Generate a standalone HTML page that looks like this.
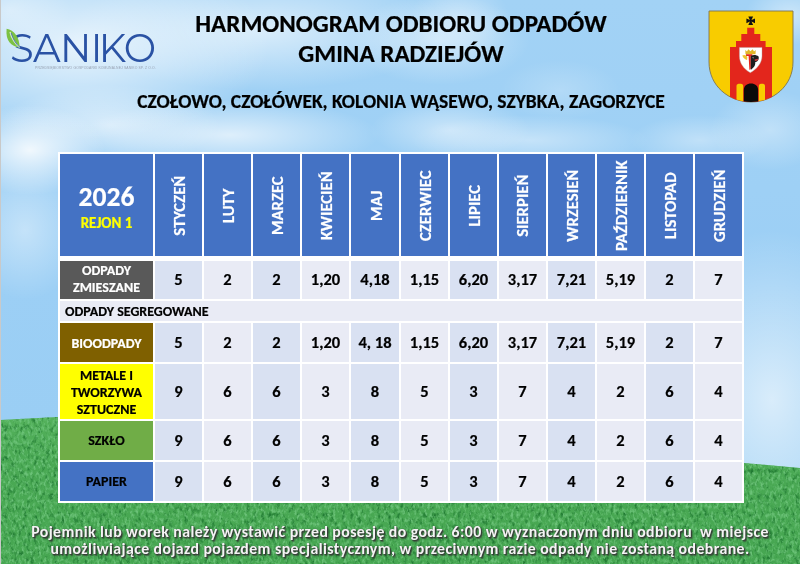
<!DOCTYPE html>
<html><head><meta charset="utf-8"><style>
*{margin:0;padding:0;box-sizing:border-box}
html,body{width:800px;height:564px;overflow:hidden}
body{position:relative;font-family:"Carlito", "Liberation Sans", sans-serif;background:#a9d6f5}
#sky{position:absolute;left:0;top:0;width:800px;height:564px;
background:
radial-gradient(ellipse 190px 95px at 80px 45px, rgba(255,255,255,0.75), rgba(255,255,255,0)),
radial-gradient(ellipse 190px 60px at 260px 30px, rgba(255,255,255,0.6), rgba(255,255,255,0)),
radial-gradient(ellipse 90px 45px at 440px 40px, rgba(255,255,255,0.45), rgba(255,255,255,0)),
radial-gradient(ellipse 75px 45px at 30px 150px, rgba(255,255,255,0.85), rgba(255,255,255,0)),
radial-gradient(ellipse 110px 40px at 110px 125px, rgba(255,255,255,0.55), rgba(255,255,255,0)),
radial-gradient(ellipse 150px 35px at 230px 135px, rgba(255,255,255,0.65), rgba(255,255,255,0)),
radial-gradient(ellipse 80px 30px at 450px 130px, rgba(255,255,255,0.45), rgba(255,255,255,0)),
radial-gradient(ellipse 45px 30px at 790px 15px, rgba(255,255,255,0.45), rgba(255,255,255,0)),
radial-gradient(ellipse 60px 40px at 770px 130px, rgba(255,255,255,0.35), rgba(255,255,255,0)),
radial-gradient(ellipse 60px 70px at 25px 230px, rgba(255,255,255,0.4), rgba(255,255,255,0)),
radial-gradient(ellipse 120px 170px at 772px 400px, rgba(255,255,255,0.62), rgba(255,255,255,0)),
radial-gradient(ellipse 60px 40px at 10px 10px, rgba(255,255,255,0.4), rgba(255,255,255,0)),
radial-gradient(ellipse 120px 25px at 530px 140px, rgba(255,255,255,0.4), rgba(255,255,255,0)),
radial-gradient(ellipse 70px 25px at 700px 140px, rgba(255,255,255,0.35), rgba(255,255,255,0)),
radial-gradient(ellipse 50px 40px at 460px 20px, rgba(255,255,255,0.35), rgba(255,255,255,0)),
radial-gradient(ellipse 60px 30px at 560px 90px, rgba(255,255,255,0.2), rgba(255,255,255,0)),
linear-gradient(180deg,#a2d2f5 0%,#9ccff5 50%,#9acef4 75%,#a4d4f5 100%)}
#grass{position:absolute;left:0;top:0;width:800px;height:564px}
#edge{position:absolute;left:0;top:0;width:1px;height:564px;background:#c9c9c9}
.t{position:absolute;white-space:nowrap;font-weight:bold;color:#000;-webkit-text-stroke:0.2px #000}
#tbl{position:absolute;left:58px;top:152px;width:686px;height:351px;background:#fff}
.c{-webkit-text-stroke:0.2px currentColor;position:absolute;display:flex;align-items:center;justify-content:center;text-align:center;font-weight:bold;white-space:nowrap}
.hd0{flex-direction:column;color:#fff}
.yr{position:absolute;left:0;width:100%;top:27.6px;font-size:27.6px;line-height:30px;color:#fff}
.rj{position:absolute;left:0;width:100%;top:59.8px;font-size:15px;line-height:18px;color:#ff0}
.vt{display:block;transform:translate(0.3px,0.7px) rotate(-90deg);color:#fff;font-size:16.7px;line-height:16px}
.lb{font-size:14px;line-height:17px}
.num{font-size:16.5px;color:#000;padding-bottom:1.2px}
.r1{padding-bottom:2.8px}
.seg{justify-content:flex-start;padding-left:5px;font-size:14px;color:#000}
#foot{position:absolute;left:0;top:523px;width:800px;text-align:center;font-weight:bold;font-size:15.8px;letter-spacing:0.43px;line-height:17.4px;color:#f4f4f4;text-shadow:1px 1px 1.2px #353535, 1.5px 1.5px 1.5px rgba(40,40,40,.6), 0 0 1px rgba(60,60,60,.6);white-space:pre}
</style></head><body>
<div id="sky"></div>
<svg id="grass" width="800" height="564" viewBox="0 0 800 564">
<defs>
<filter id="gl" x="0" y="0" width="100%" height="100%" color-interpolation-filters="sRGB"><feTurbulence type="fractalNoise" baseFrequency="0.36 0.22" numOctaves="3" seed="7"/><feColorMatrix type="matrix" values="0 0 0 0 0.42  0 0 0 0 0.76  0 0 0 0 0.47  3.0 0 0 0 -1.35"/><feGaussianBlur stdDeviation="0.4"/><feComposite in2="SourceGraphic" operator="in"/></filter>
<filter id="gd" x="0" y="0" width="100%" height="100%" color-interpolation-filters="sRGB"><feTurbulence type="fractalNoise" baseFrequency="0.26 0.16" numOctaves="3" seed="21"/><feColorMatrix type="matrix" values="0 0 0 0 0.13  0 0 0 0 0.48  0 0 0 0 0.2  -3.0 0 0 0 1.5"/><feGaussianBlur stdDeviation="0.5"/><feComposite in2="SourceGraphic" operator="in"/></filter>
</defs>
<linearGradient id="gg" gradientUnits="userSpaceOnUse" x1="0" y1="410" x2="0" y2="564"><stop offset="0" stop-color="#55b25c"/><stop offset="0.35" stop-color="#4aa954"/><stop offset="1" stop-color="#46a651"/></linearGradient>
<path id="hill" d="M0,420 L58,417 C258,406.6 544,446 744,463 L800,468 V564 H0 Z" fill="url(#gg)"/>
<path d="M0,420 L58,417 C258,406.6 544,446 744,463 L800,468 V564 H0 Z" fill="#fff" filter="url(#gd)"/>
<path d="M0,420 L58,417 C258,406.6 544,446 744,463 L800,468 V564 H0 Z" fill="#fff" filter="url(#gl)"/>
</svg>
<div id="edge"></div>


<div id="logo" style="position:absolute;left:10px;top:26.5px;letter-spacing:-0.6px;font:450 38.5px Montserrat, 'Liberation Sans', sans-serif;color:#2a52a4;line-height:44px;white-space:nowrap"><span style="display:inline-block;clip-path:polygon(6px 0,100% 0,100% 100%,0 100%,0 20.5px,9px 20.5px,9px 11.5px,6px 11.5px)">S</span>ANI<span style="margin-left:-3px">K</span><span style="margin-left:-1.8px">O</span></div>
<div style="position:absolute;left:35px;top:66.2px;font:400 3.4px 'Liberation Sans', sans-serif;color:#98a2b2;white-space:nowrap;letter-spacing:0.12px">PRZEDSIĘBIORSTWO GOSPODARKI KOMUNALNEJ SANIKO SP. Z O.O.</div>
<svg style="position:absolute;left:0;top:0" width="800" height="564" viewBox="0 0 800 564">
<path d="M6.6,28.8 C14,30 19.5,37 19.6,47.6 C11,46.5 5.4,41 6.6,28.8 Z" fill="#7cc143"/>
<path d="M10,32 C11.5,38 14.5,43 19.6,47.4" stroke="#d8ecd0" stroke-width="1.3" fill="none"/>
<path d="M11.2,33 C13,39 15.5,43.5 19.8,47.2" stroke="#4a6fb0" stroke-width="0.9" fill="none"/>
<g id="crest">
<path d="M709,11 H793 V62 C793,86 773,102 751,102 C729,102 709,86 709,62 Z" fill="#f8cc00" stroke="#7f7550" stroke-width="0.9"/>
<clipPath id="sh"><path d="M709,11 H793 V62 C793,86 773,102 751,102 C729,102 709,86 709,62 Z"/></clipPath>
<g clip-path="url(#sh)">
<path d="M730,47 H736 V41 H741.3 V34 H747.2 V27.7 H754.3 V34 H760.3 V41 H765.6 V47 H772 V104 H730 Z" fill="#e3261c"/>
<path d="M736.5,101 V86 C736.5,84 738,83.7 739.8,83.7 C741.6,83.7 743.2,84 743.2,86 V101 Z" fill="#f8cc00"/>
<path d="M758.8,101 V86 C758.8,84 760.4,83.7 762,83.7 C763.6,83.7 765,84 765,86 V101 Z" fill="#f8cc00"/>
<path d="M743.8,102 V90 C743.8,86 747,83.6 751,83.6 C755,83.6 758.1,86 758.1,90 V102 Z" fill="#0a0a0a"/>
</g>
<path d="M739.4,47.4 H762 V56 C762,63 757,69 750.3,72.7 C743.6,69 739.4,63 739.4,56 Z" fill="#fff" stroke="#b0a0a0" stroke-width="0.4"/>
<path d="M745.5,54.3 L745.3,50 L747,51.6 L748.3,49.3 L750.5,51.2 L752.7,49.3 L754,51.6 L755.7,50 L755.5,54.3 Z" fill="#e2b626"/>
<path d="M746,54.2 H752.3 V56 H750.8 V68.8 L749.4,70 L748.6,56 H746 Z" fill="#e3261c"/>
<path d="M742.3,55.5 C744,54.4 746.6,55 747.3,57 L747.1,60 C745.4,59.5 743,58 742.3,55.5 Z" fill="#eec430"/>
<path d="M750.8,56 C753,54.6 756.6,54.8 758.6,56.6 C759.1,58.6 758.4,60.6 757,61.6 L755.2,62.2 C755.6,64.2 754.6,66.2 753.4,67.6 L750.8,70 Z" fill="#1e1e1e"/>
<path d="M754.6,59.4 L758.2,58.8 L757.6,60.6 L754.9,61.1 Z" fill="#d83a3a"/>
<path d="M752.2,57.6 L753.6,57.2 L753.4,58.4 Z" fill="#ddd"/>
<path d="M748.3,16.5 H753.1 L751.5,20 L755,18.4 V23.2 L751.5,21.6 L753.1,25.1 H748.3 L749.9,21.6 L746.4,23.2 V18.4 L749.9,20 Z" fill="#111"/>
</g>
</svg>

<div class="t" style="left:0;width:802px;top:8.6px;text-align:center;font-size:25.1px;line-height:30px">HARMONOGRAM ODBIORU ODPADÓW<br>GMINA RADZIEJÓW</div>
<div class="t" style="left:0;width:802px;top:89.5px;text-align:center;font-size:19.5px;line-height:22px">CZOŁOWO, CZOŁÓWEK, KOLONIA WĄSEWO, SZYBKA, ZAGORZYCE</div>

<div id="tbl"></div>
<div class="c hd0" style="left:60px;top:154px;width:93px;height:102px;background:#4472c4"><div class="yr">2026</div><div class="rj">REJON 1</div></div><div class="c hd" style="left:155px;top:154px;width:47px;height:102px;background:#4472c4"><span class="vt">STYCZEŃ</span></div><div class="c hd" style="left:204px;top:154px;width:47px;height:102px;background:#4472c4"><span class="vt">LUTY</span></div><div class="c hd" style="left:253px;top:154px;width:47px;height:102px;background:#4472c4"><span class="vt">MARZEC</span></div><div class="c hd" style="left:302px;top:154px;width:47px;height:102px;background:#4472c4"><span class="vt">KWIECIEŃ</span></div><div class="c hd" style="left:351px;top:154px;width:48px;height:102px;background:#4472c4"><span class="vt">MAJ</span></div><div class="c hd" style="left:401px;top:154px;width:47px;height:102px;background:#4472c4"><span class="vt">CZERWIEC</span></div><div class="c hd" style="left:450px;top:154px;width:47px;height:102px;background:#4472c4"><span class="vt">LIPIEC</span></div><div class="c hd" style="left:499px;top:154px;width:47px;height:102px;background:#4472c4"><span class="vt">SIERPIEŃ</span></div><div class="c hd" style="left:548px;top:154px;width:47px;height:102px;background:#4472c4"><span class="vt">WRZESIEŃ</span></div><div class="c hd" style="left:597px;top:154px;width:47px;height:102px;background:#4472c4"><span class="vt">PAŹDZIERNIK</span></div><div class="c hd" style="left:646px;top:154px;width:47px;height:102px;background:#4472c4"><span class="vt">LISTOPAD</span></div><div class="c hd" style="left:695px;top:154px;width:47px;height:102px;background:#4472c4"><span class="vt">GRUDZIEŃ</span></div><div class="c lb" style="left:60px;top:261px;width:93px;height:38px;background:#595959"><span style="color:#fff;padding-bottom:1.6px">ODPADY<br>ZMIESZANE</span></div><div class="c num r1" style="left:155px;top:261px;width:47px;height:38px;background:#d9e1f2">5</div><div class="c num r1" style="left:204px;top:261px;width:47px;height:38px;background:#e9ebf5">2</div><div class="c num r1" style="left:253px;top:261px;width:47px;height:38px;background:#d9e1f2">2</div><div class="c num r1" style="left:302px;top:261px;width:47px;height:38px;background:#e9ebf5">1,20</div><div class="c num r1" style="left:351px;top:261px;width:48px;height:38px;background:#d9e1f2">4,18</div><div class="c num r1" style="left:401px;top:261px;width:47px;height:38px;background:#e9ebf5">1,15</div><div class="c num r1" style="left:450px;top:261px;width:47px;height:38px;background:#d9e1f2">6,20</div><div class="c num r1" style="left:499px;top:261px;width:47px;height:38px;background:#e9ebf5">3,17</div><div class="c num r1" style="left:548px;top:261px;width:47px;height:38px;background:#d9e1f2">7,21</div><div class="c num r1" style="left:597px;top:261px;width:47px;height:38px;background:#e9ebf5">5,19</div><div class="c num r1" style="left:646px;top:261px;width:47px;height:38px;background:#d9e1f2">2</div><div class="c num r1" style="left:695px;top:261px;width:47px;height:38px;background:#e9ebf5">7</div><div class="c lb" style="left:60px;top:323px;width:93px;height:39px;background:#7f6000"><span style="color:#fff;padding-top:2.6px">BIOODPADY</span></div><div class="c num" style="left:155px;top:323px;width:47px;height:39px;background:#d9e1f2">5</div><div class="c num" style="left:204px;top:323px;width:47px;height:39px;background:#e9ebf5">2</div><div class="c num" style="left:253px;top:323px;width:47px;height:39px;background:#d9e1f2">2</div><div class="c num" style="left:302px;top:323px;width:47px;height:39px;background:#e9ebf5">1,20</div><div class="c num" style="left:351px;top:323px;width:48px;height:39px;background:#d9e1f2">4, 18</div><div class="c num" style="left:401px;top:323px;width:47px;height:39px;background:#e9ebf5">1,15</div><div class="c num" style="left:450px;top:323px;width:47px;height:39px;background:#d9e1f2">6,20</div><div class="c num" style="left:499px;top:323px;width:47px;height:39px;background:#e9ebf5">3,17</div><div class="c num" style="left:548px;top:323px;width:47px;height:39px;background:#d9e1f2">7,21</div><div class="c num" style="left:597px;top:323px;width:47px;height:39px;background:#e9ebf5">5,19</div><div class="c num" style="left:646px;top:323px;width:47px;height:39px;background:#d9e1f2">2</div><div class="c num" style="left:695px;top:323px;width:47px;height:39px;background:#e9ebf5">7</div><div class="c lb" style="left:60px;top:364px;width:93px;height:55px;background:#ffff00"><span style="color:#000;padding-top:2.4px">METALE I<br>TWORZYWA<br>SZTUCZNE</span></div><div class="c num" style="left:155px;top:364px;width:47px;height:55px;background:#d9e1f2">9</div><div class="c num" style="left:204px;top:364px;width:47px;height:55px;background:#e9ebf5">6</div><div class="c num" style="left:253px;top:364px;width:47px;height:55px;background:#d9e1f2">6</div><div class="c num" style="left:302px;top:364px;width:47px;height:55px;background:#e9ebf5">3</div><div class="c num" style="left:351px;top:364px;width:48px;height:55px;background:#d9e1f2">8</div><div class="c num" style="left:401px;top:364px;width:47px;height:55px;background:#e9ebf5">5</div><div class="c num" style="left:450px;top:364px;width:47px;height:55px;background:#d9e1f2">3</div><div class="c num" style="left:499px;top:364px;width:47px;height:55px;background:#e9ebf5">7</div><div class="c num" style="left:548px;top:364px;width:47px;height:55px;background:#d9e1f2">4</div><div class="c num" style="left:597px;top:364px;width:47px;height:55px;background:#e9ebf5">2</div><div class="c num" style="left:646px;top:364px;width:47px;height:55px;background:#d9e1f2">6</div><div class="c num" style="left:695px;top:364px;width:47px;height:55px;background:#e9ebf5">4</div><div class="c lb" style="left:60px;top:421px;width:93px;height:39px;background:#70ad47"><span style="color:#000;padding-top:0.4px">SZKŁO</span></div><div class="c num" style="left:155px;top:421px;width:47px;height:39px;background:#d9e1f2">9</div><div class="c num" style="left:204px;top:421px;width:47px;height:39px;background:#e9ebf5">6</div><div class="c num" style="left:253px;top:421px;width:47px;height:39px;background:#d9e1f2">6</div><div class="c num" style="left:302px;top:421px;width:47px;height:39px;background:#e9ebf5">3</div><div class="c num" style="left:351px;top:421px;width:48px;height:39px;background:#d9e1f2">8</div><div class="c num" style="left:401px;top:421px;width:47px;height:39px;background:#e9ebf5">5</div><div class="c num" style="left:450px;top:421px;width:47px;height:39px;background:#d9e1f2">3</div><div class="c num" style="left:499px;top:421px;width:47px;height:39px;background:#e9ebf5">7</div><div class="c num" style="left:548px;top:421px;width:47px;height:39px;background:#d9e1f2">4</div><div class="c num" style="left:597px;top:421px;width:47px;height:39px;background:#e9ebf5">2</div><div class="c num" style="left:646px;top:421px;width:47px;height:39px;background:#d9e1f2">6</div><div class="c num" style="left:695px;top:421px;width:47px;height:39px;background:#e9ebf5">4</div><div class="c lb" style="left:60px;top:462px;width:93px;height:39px;background:#4472c4"><span style="color:#000;padding-top:0.4px">PAPIER</span></div><div class="c num" style="left:155px;top:462px;width:47px;height:39px;background:#d9e1f2">9</div><div class="c num" style="left:204px;top:462px;width:47px;height:39px;background:#e9ebf5">6</div><div class="c num" style="left:253px;top:462px;width:47px;height:39px;background:#d9e1f2">6</div><div class="c num" style="left:302px;top:462px;width:47px;height:39px;background:#e9ebf5">3</div><div class="c num" style="left:351px;top:462px;width:48px;height:39px;background:#d9e1f2">8</div><div class="c num" style="left:401px;top:462px;width:47px;height:39px;background:#e9ebf5">5</div><div class="c num" style="left:450px;top:462px;width:47px;height:39px;background:#d9e1f2">3</div><div class="c num" style="left:499px;top:462px;width:47px;height:39px;background:#e9ebf5">7</div><div class="c num" style="left:548px;top:462px;width:47px;height:39px;background:#d9e1f2">4</div><div class="c num" style="left:597px;top:462px;width:47px;height:39px;background:#e9ebf5">2</div><div class="c num" style="left:646px;top:462px;width:47px;height:39px;background:#d9e1f2">6</div><div class="c num" style="left:695px;top:462px;width:47px;height:39px;background:#e9ebf5">4</div><div class="c seg" style="left:60px;top:301px;width:682px;height:20px;background:#e9ebf5">ODPADY SEGREGOWANE</div>

<div id="foot">Pojemnik lub worek należy wystawić przed posesję do godz. 6:00 w wyznaczonym dniu odbioru  w miejsce
umożliwiające dojazd pojazdem specjalistycznym, w przeciwnym razie odpady nie zostaną odebrane.</div>
</body></html>
